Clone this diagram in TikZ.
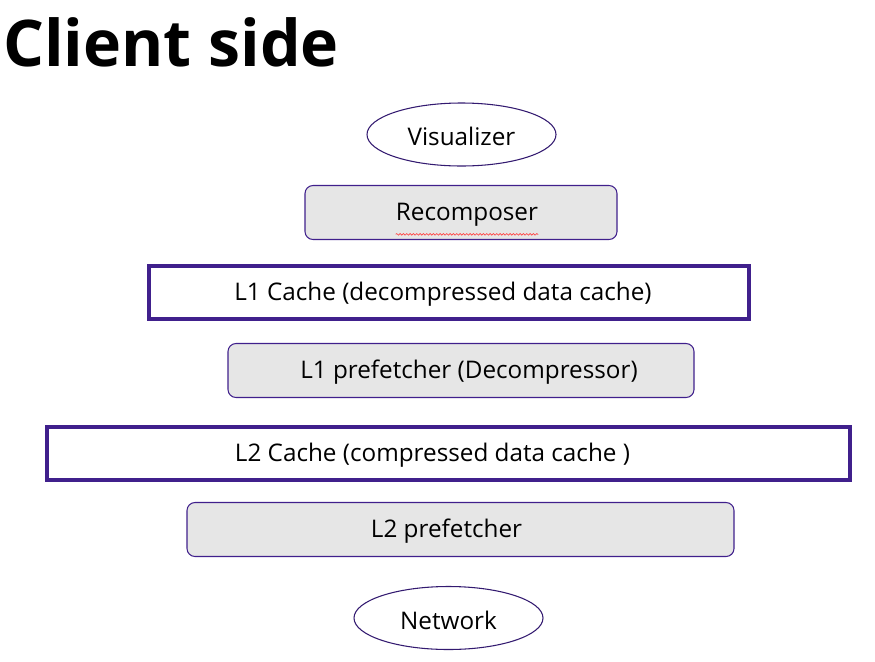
\documentclass[tikz,border=0pt]{standalone}
\usepackage{fontspec}
\setmainfont{Open Sans}
\usepackage{xcolor}
\usetikzlibrary{shapes.geometric,decorations.pathmorphing}

\definecolor{boxline}{RGB}{64,32,140}
\definecolor{boxfill}{RGB}{230,230,230}

\tikzset{
	lbl/.style={inner sep=0pt, font=\fontsize{18.2}{21}\selectfont},
	endpoint/.style={ellipse, draw=boxline!80!black, line width=0.8pt, minimum width=189*0.75pt, minimum height=63*0.75pt, inner sep=0pt},
	stagebox/.style={rectangle, rounded corners=6pt, draw=boxline, line width=0.8pt, fill=boxfill, minimum height=54*0.75pt, inner sep=0pt},
	cachebox/.style={rectangle, draw=boxline, line width=2.4pt, minimum height=53*0.75pt, inner sep=0pt},
	spellmark/.style={red!75, line width=0.5pt, decorate, decoration={snake, amplitude=0.6pt, segment length=2.5pt}}
}

\begin{document}
\begin{tikzpicture}[x=0.75pt, y=-0.75pt]
			\useasboundingbox (0,0) rectangle (875,661);
			\node[anchor=base west, inner sep=0pt, font=\fontsize{48.3}{54}\bfseries] (title) at (3,66) {Client side};
			%
			\node[endpoint] (vis) at (461.5,134.5) {};
			\node[lbl] (vis text) at ([yshift=-2*0.75pt]vis.center) {Visualizer};
			\node[stagebox, minimum width=312*0.75pt] (recomp) at (461,212.5) {};
			\node[lbl] (recomp text) at ([xshift=6*0.75pt, yshift=-2*0.75pt]recomp.center) {Recomposer};
			\node[cachebox, minimum width=600*0.75pt] (l1cache) at (449,292.5) {};
			\node[lbl] (l1cache text) at ([xshift=-6*0.75pt, yshift=-2*0.75pt]l1cache.center) {L1 Cache (decompressed data cache)};
			\node[stagebox, minimum width=466*0.75pt] (l1pref) at (461,370.5) {};
			\node[lbl] (l1pref text) at ([xshift=8*0.75pt, yshift=-2*0.75pt]l1pref.center) {L1 prefetcher (Decompressor)};
			\node[cachebox, minimum width=803*0.75pt] (l2cache) at (448.5,453.5) {};
			\node[lbl] (l2cache text) at ([xshift=-16*0.75pt, yshift=-2*0.75pt]l2cache.center) {L2 Cache (compressed data cache )};
			\node[stagebox, minimum width=547*0.75pt] (l2pref) at (460.5,529.5) {};
			\node[lbl] (l2pref text) at ([xshift=-14*0.75pt, yshift=-2*0.75pt]l2pref.center) {L2 prefetcher};
			\node[endpoint] (net) at (448.5,618) {};
			\node[lbl] (net text) at ([yshift=-2*0.75pt]net.center) {Network};
			%
			\draw[spellmark] ([yshift=-8*0.75pt]recomp text.south west) -- ([yshift=-8*0.75pt]recomp text.south east);
		\end{tikzpicture}
\end{document}
